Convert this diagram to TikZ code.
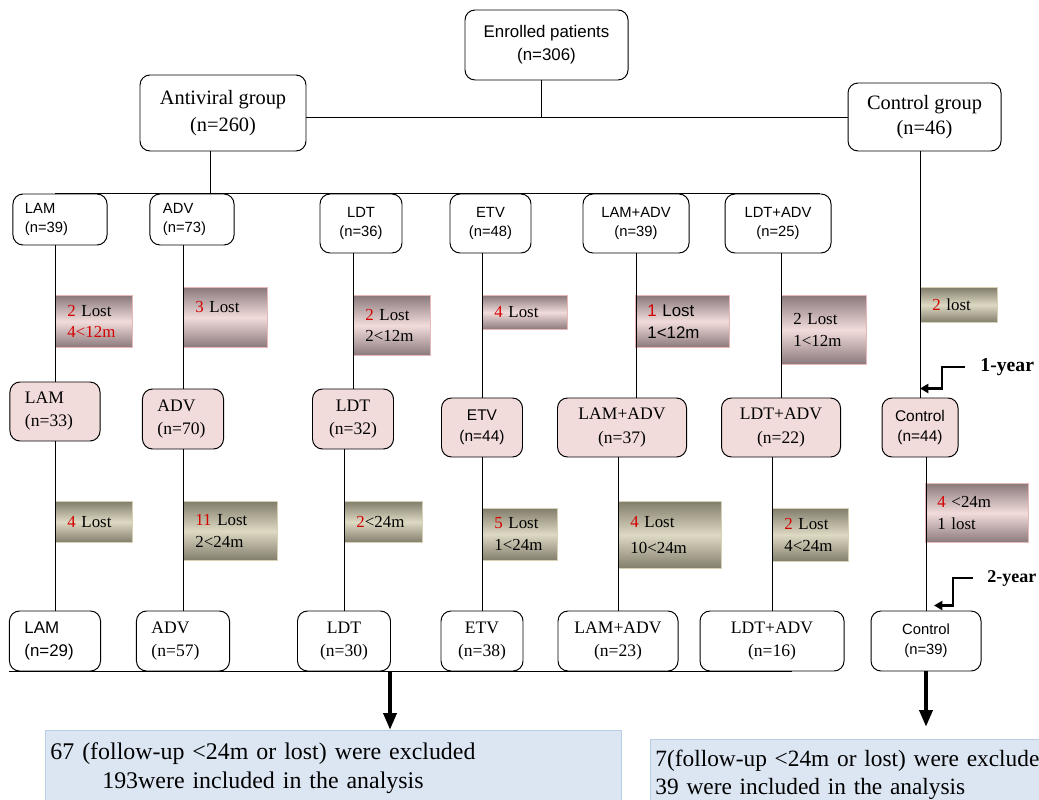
\documentclass[tikz,border=0pt]{standalone}
\usepackage{fontspec}
\setmainfont{Liberation Serif}
\setsansfont{Liberation Sans}
\usetikzlibrary{calc,arrows.meta}
\definecolor{pinkfill}{HTML}{F2DCDB}
\definecolor{pinkedge}{HTML}{E6B9B8}
\definecolor{mauve}{HTML}{8A797C}
\definecolor{olivefill}{HTML}{DDD9C3}
\definecolor{olivedark}{HTML}{827E6C}
\definecolor{oliveedge}{HTML}{D6D1B6}
\definecolor{lostred}{HTML}{D40000}
\definecolor{bluefill}{HTML}{DCE6F2}
\definecolor{blueedge}{HTML}{B9CDE5}
\newcommand{\redn}[1]{\textcolor{lostred}{#1}}
\newcommand{\fsz}[2]{\fontsize{#1}{#2}\selectfont}

\tikzset{
	grp/.style={draw, line width=0.7pt, rounded corners=0.25cm, align=center, inner sep=0pt},
	pinkgrp/.style={grp, fill=pinkfill},
	wh/.style 2 args={minimum width=#1*0.025cm, minimum height=#2*0.025cm},
	lostpink/.style={draw=pinkedge, top color=mauve, bottom color=mauve, middle color=pinkfill, anchor=north west, align=left, inner xsep=0.3cm, inner ysep=0pt, font=\fsz{12}{15.6}},
	lostolive/.style={draw=oliveedge, top color=olivedark, bottom color=olivedark, middle color=olivefill, anchor=north west, align=left, inner xsep=0.3cm, inner ysep=0pt, font=\fsz{12}{15.6}},
	bigarrow/.style={line width=3pt, -{Triangle[length=12pt,width=9pt]}},
	elbow/.style={line width=2pt, -{Triangle[length=6pt,width=6.5pt]}},
}

\begin{document}
\begin{tikzpicture}[x=0.025cm, y=-0.025cm, line width=0.6pt]
			%%%%% START %%%%%
			\useasboundingbox (0,0) rectangle (1039,800);
			\clip (0,0) rectangle (1039,800);
			
			\node[grp, wh={163}{70}, font=\sffamily\fsz{12}{16.4}] (enrolled) at (546.5,45) {Enrolled patients\\(n=306)};
			\node[grp, wh={166}{76}, font=\fsz{14.5}{19}] (antiviral) at (223,113) {Antiviral group\\(n=260)};
			\node[grp, wh={153}{68}, font=\fsz{14.5}{18}] (control) at (924.5,117) {Control group\\(n=46)};
			
			\node[grp, wh={94}{51}, text width=1.75cm, inner xsep=0.3cm, align=left, font=\sffamily\fsz{10.5}{14}] (lamA) at (60,219.5) {LAM\\(n=39)};
			\node[grp, wh={84}{51}, text width=1.45cm, inner xsep=0.325cm, align=left, font=\sffamily\fsz{10.5}{14}] (advA) at (192,219.5) {ADV\\(n=73)};
			\node[grp, wh={82}{59}, font=\sffamily\fsz{10.5}{14}] (ldtA) at (361,223.5) {LDT\\(n=36)};
			\node[grp, wh={81}{59}, font=\sffamily\fsz{10.5}{14}] (etvA) at (490.5,223.5) {ETV\\(n=48)};
			\node[grp, wh={106}{59}, font=\sffamily\fsz{10.5}{14}] (lamadvA) at (636,223.5) {LAM+ADV\\(n=39)};
			\node[grp, wh={106}{59}, font=\sffamily\fsz{10.5}{14}] (ldtadvA) at (778,223.5) {LDT+ADV\\(n=25)};
			
			\node[pinkgrp, wh={90}{59}, text width=1.5cm, inner xsep=0.375cm, align=left, font=\fsz{12.5}{16.4}] (lamB) at (55,411.5) {LAM\\(n=33)};
			\node[pinkgrp, wh={81}{60}, text width=1.275cm, inner xsep=0.375cm, align=left, font=\fsz{12.5}{16.4}] (advB) at (183,419) {ADV\\(n=70)};
			\node[pinkgrp, wh={81}{60}, font=\fsz{12.5}{16.4}] (ldtB) at (353,419) {LDT\\(n=32)};
			\node[pinkgrp, wh={81}{59}, font=\sffamily\fsz{11}{15}] (etvB) at (482,427.5) {ETV\\(n=44)};
			\node[pinkgrp, wh={129}{59}, font=\fsz{12.5}{17.5}] (lamadvB) at (622,427.5) {LAM+ADV\\(n=37)};
			\node[pinkgrp, wh={119}{59}, font=\fsz{12.5}{17.5}] (ldtadvB) at (781,427.5) {LDT+ADV\\(n=22)};
			\node[pinkgrp, wh={76}{59}, font=\sffamily\fsz{11}{14.5}] (controlB) at (920,427.5) {Control\\(n=44)};
			
			\node[grp, wh={91}{60}, text width=1.525cm, inner xsep=0.375cm, align=left, font=\sffamily\fsz{12}{16.4}] (lamC) at (55,641) {LAM\\(n=29)};
			\node[grp, wh={93}{60}, text width=1.575cm, inner xsep=0.375cm, align=left, font=\fsz{12.5}{16.4}] (advC) at (183,641) {ADV\\(n=57)};
			\node[grp, wh={93}{60}, font=\fsz{12.5}{16.4}] (ldtC) at (344,641) {LDT\\(n=30)};
			\node[grp, wh={82}{60}, font=\fsz{12.5}{16.4}] (etvC) at (482,641) {ETV\\(n=38)};
			\node[grp, wh={120}{60}, font=\fsz{12.5}{16.4}] (lamadvC) at (618,641) {LAM+ADV\\(n=23)};
			\node[grp, wh={144}{60}, font=\fsz{12.5}{16.4}] (ldtadvC) at (772,641) {LDT+ADV\\(n=16)};
			\node[grp, wh={110}{60}, font=\sffamily\fsz{10.5}{14.2}] (controlC) at (926,641) {Control\\(n=39)};
			
			% lost within 12 months
			\node[lostpink, wh={77}{52}, text width=1.325cm] (lamL1) at (55,295) {\redn{2} Lost\\\redn{4<12m}};
			\node[lostpink, wh={84}{60}, text width=1.5cm] (advL1) at (183,287) {\redn{3} Lost\\\mbox{}};
			\node[lostpink, wh={77}{60}, text width=1.325cm] (ldtL1) at (353,295) {\redn{2} Lost\\2<12m};
			\node[lostpink, wh={85}{34}, text width=1.525cm] (etvL1) at (482,295) {\redn{4} Lost};
			\node[lostpink, wh={94}{52}, text width=1.75cm, font=\sffamily\fsz{12}{15.6}] (lamadvL1) at (635,295) {\redn{1} Lost\\1<12m};
			\node[lostpink, wh={85}{69}, text width=1.525cm] (ldtadvL1) at (781,295) {2 Lost\\1<12m};
			\node[lostolive, wh={77}{35}, text width=1.325cm] (ctrlL1) at (920,287) {\redn{2} lost};
			
			% lost within 24 months
			\node[lostolive, wh={77}{41}, text width=1.325cm] (lamL2) at (55,501) {\redn{4} Lost};
			\node[lostolive, wh={94}{59}, text width=1.75cm] (advL2) at (183,501) {\redn{11} Lost\\2<24m};
			\node[lostolive, wh={78}{41}, text width=1.35cm] (ldtL2) at (344,501) {\redn{2}<24m};
			\node[lostolive, wh={75}{52}, text width=1.275cm] (etvL2) at (482,508) {\redn{5} Lost\\1<24m};
			\node[lostolive, wh={103}{67}, text width=1.975cm, font=\fsz{12}{18}] (lamadvL2) at (618,501) {\redn{4} Lost\\10<24m};
			\node[lostolive, wh={76}{53}, text width=1.3cm] (ldtadvL2) at (772,508) {\redn{2} Lost\\4<24m};
			\node[lostpink, wh={103}{59}, text width=1.975cm] (ctrlL2) at (925,483) {\redn{4} <24m\\1 lost};
			
			\node[draw=blueedge, fill=bluefill, anchor=north west, wh={576}{76}, text width=14.15cm, inner xsep=0.125cm, align=left, font=\fsz{17}{20.6}] (excl) at (45,730) {\begin{tabular}{@{}c@{}}67 (follow-up <24m or lost) were excluded\\193were included in the analysis\end{tabular}};
			\node[draw=blueedge, fill=bluefill, anchor=north west, wh={460}{70}, text width=11.25cm, inner xsep=0.125cm, align=left, font=\fsz{16.6}{20}] (exclctl) at (650,739) {7(follow-up <24m or lost) were excluded\\39 were included in the analysis};
			
			\node[anchor=west, inner xsep=0.375cm, font=\bfseries\fsz{14}{16}] (yearA) at (965,367) {1-year};
			\node[anchor=west, inner xsep=0.35cm, font=\bfseries\fsz{12.8}{15}] (yearB) at (973,578) {2-year};
			
			% tree
			\coordinate (split) at (541,117);
			\coordinate (gather) at (390,671);
			\draw (enrolled.south -| split) -- (split);
			\draw (split -| antiviral.east) -- (split -| control.west);
			\draw ([xshift=-0.325cm]antiviral.south) -- ([xshift=-0.325cm]antiviral.south |- lamA.north);
			\draw (lamB.north |- lamA.north) -- ([xshift=-0.28cm]ldtadvA.north east);
			\draw (controlB.north |- control.south) -- (controlB.north);
			
			\draw (lamB.north |- lamA.south) -- (lamB.north);
			\draw (lamB.south) -- (lamC.north);
			\draw (advB.north |- advA.south) -- (advB.north);
			\draw (advB.south) -- (advC.north);
			\draw (ldtB.north |- ldtA.south) -- (ldtB.north);
			\draw (ldtC.north |- ldtB.south) -- (ldtC.north);
			\draw (etvB.north |- etvA.south) -- (etvB.north);
			\draw (etvB.south) -- (etvC.north);
			\draw (lamadvA.south) -- (lamadvA.south |- lamadvB.north);
			\draw (lamadvC.north |- lamadvB.south) -- (lamadvC.north);
			\draw (ldtadvB.north |- ldtadvA.south) -- (ldtadvB.north);
			\draw (ldtadvC.north |- ldtadvB.south) -- (ldtadvC.north);
			\draw (controlC.north |- controlB.south) -- (controlC.north);
			
			\draw (lamC.south west) -- ([xshift=0.5cm]ldtadvC.south);
			\draw[bigarrow] (gather) -- (gather |- excl.north);
			\draw[bigarrow] (controlC.south) -- ([yshift=0.3cm]exclctl.north -| controlC.south);
			
			\draw[elbow] (yearA.west) -- ++(-23,0) |- ($(controlB.north)+(0,-9)$);
			\draw[elbow] (yearB.west) -- ++(-20,0) |- ($(controlC.north)+(8,-5)$);
			%%%%% END %%%%%
\end{tikzpicture}
\end{document}
